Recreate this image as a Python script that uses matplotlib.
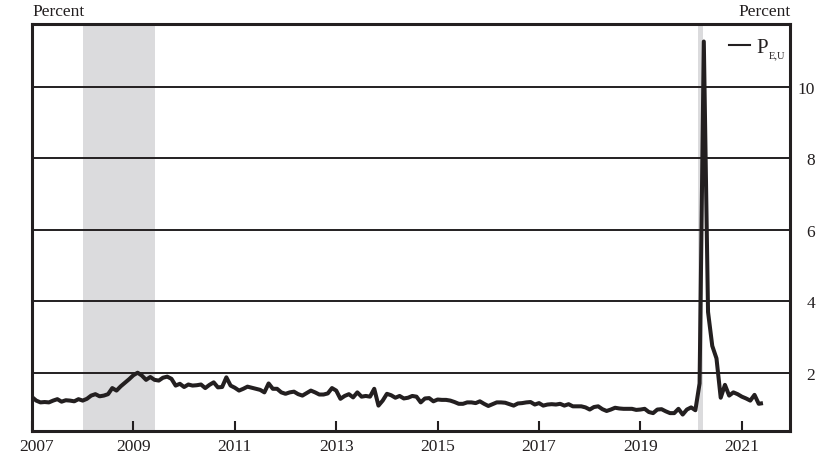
import matplotlib
matplotlib.use("Agg")
import matplotlib.pyplot as plt
import matplotlib.transforms as mtransforms
from matplotlib.lines import Line2D
import numpy as np

plt.rcParams['font.family'] = ['Liberation Serif', 'DejaVu Serif']

# Monthly values, Jan 2007 - Jun 2021 (percent)
p2007 = [1.32, 1.22, 1.17, 1.18, 1.17, 1.22, 1.26, 1.19, 1.23, 1.22, 1.20, 1.26]
p2008 = [1.22, 1.27, 1.36, 1.40, 1.34, 1.36, 1.40, 1.57, 1.50, 1.62, 1.72, 1.82]
p2009 = [1.93, 2.00, 1.92, 1.80, 1.88, 1.80, 1.78, 1.86, 1.89, 1.83, 1.64, 1.69]
p2010 = [1.60, 1.67, 1.64, 1.65, 1.67, 1.57, 1.66, 1.73, 1.59, 1.60, 1.87, 1.64]
p2011 = [1.58, 1.50, 1.55, 1.61, 1.58, 1.55, 1.52, 1.45, 1.70, 1.55, 1.55, 1.45]
p2012 = [1.41, 1.45, 1.47, 1.40, 1.36, 1.43, 1.50, 1.45, 1.39, 1.39, 1.42, 1.57]
p2013 = [1.50, 1.27, 1.35, 1.40, 1.31, 1.45, 1.33, 1.35, 1.33, 1.55, 1.08, 1.22]
p2014 = [1.41, 1.37, 1.30, 1.35, 1.28, 1.30, 1.35, 1.33, 1.17, 1.28, 1.29, 1.20]
p2015 = [1.25, 1.24, 1.24, 1.22, 1.18, 1.13, 1.13, 1.17, 1.17, 1.15, 1.20, 1.13]
p2016 = [1.07, 1.12, 1.17, 1.17, 1.16, 1.12, 1.08, 1.14, 1.15, 1.17, 1.18, 1.11]
p2017 = [1.15, 1.08, 1.11, 1.12, 1.11, 1.13, 1.08, 1.12, 1.06, 1.06, 1.06, 1.03]
p2018 = [0.97, 1.04, 1.06, 0.98, 0.93, 0.97, 1.02, 1.00, 0.99, 0.99, 0.99, 0.96]
p2019 = [0.97, 0.99, 0.90, 0.87, 0.97, 0.98, 0.92, 0.87, 0.87, 0.99, 0.83, 0.97]
p2020 = [1.03, 0.95, 1.70, 11.26, 3.70, 2.75, 2.40, 1.30, 1.66, 1.36, 1.45, 1.40]
p2021 = [1.33, 1.28, 1.22, 1.38, 1.13, 1.15]

start_year = 2007
recessions = [(2008.0, 2009.42), (2020.14, 2020.23)]
x_ticks = [2007, 2009, 2011, 2013, 2015, 2017, 2019, 2021]
y_ticks = [2, 4, 6, 8, 10]
series_main = 'P'
series_sub = 'E,U'

values = (p2007 + p2008 + p2009 + p2010 + p2011 + p2012 + p2013 + p2014 +
          p2015 + p2016 + p2017 + p2018 + p2019 + p2020 + p2021)
dates = start_year + np.arange(len(values)) / 12.0

ink = '#231f20'
fig = plt.figure(figsize=(8.23, 4.60), dpi=100)
ax = fig.add_axes([32/823, 28/460, 758/823, 407/460])

for a, b in recessions:
    ax.axvspan(a, b, color='#dbdbdd', lw=0, zorder=0)

for yv in y_ticks:
    ax.axhline(yv, color=ink, lw=1.4, zorder=1)

ax.plot(dates, values, color=ink, lw=2.9, solid_joinstyle='round',
        solid_capstyle='butt', zorder=3)

ax.set_xlim(2007.0, 2021.95)
ax.set_ylim(0.37, 11.75)

for s in ax.spines.values():
    s.set_linewidth(2.2)
    s.set_color(ink)

ax.set_xticks(x_ticks)
ax.set_xticklabels([str(t) for t in x_ticks])
ax.tick_params(axis='x', direction='in', length=7, width=1.5, colors=ink,
               labelsize=12.5, pad=5)
ax.yaxis.tick_right()
ax.set_yticks(y_ticks)
ax.set_yticklabels([str(t) for t in y_ticks])
ax.tick_params(axis='y', length=0, labelsize=12.5, pad=18, colors=ink)
for lab in ax.get_yticklabels():
    lab.set_horizontalalignment('right')

first = ax.get_xticklabels()[0]
first.set_transform(first.get_transform() +
                    mtransforms.ScaledTranslation(5/100, 0, fig.dpi_scale_trans))

fig.text(32/823, 1 - 12/460, 'Percent', ha='left', va='center', fontsize=12.5,
         color=ink)
fig.text(791/823, 1 - 12/460, 'Percent', ha='right', va='center', fontsize=12.5,
         color=ink)

handle = Line2D([], [], color=ink, lw=1.5)
leg = ax.legend([handle], [series_main], loc='upper right',
                bbox_to_anchor=(0.9815, 0.988), frameon=False, fontsize=15,
                handlelength=1.0, handletextpad=0.3, borderaxespad=0,
                borderpad=0.4)
ptxt = leg.get_texts()[0]
ptxt.set_color(ink)
ax.annotate(series_sub, xy=(1.0, 0.0), xycoords=ptxt, xytext=(0.5, -1.5),
            textcoords='offset points', fontsize=7.5, ha='left', va='bottom',
            color=ink, zorder=10)

fig.savefig('out.png', dpi=100)
